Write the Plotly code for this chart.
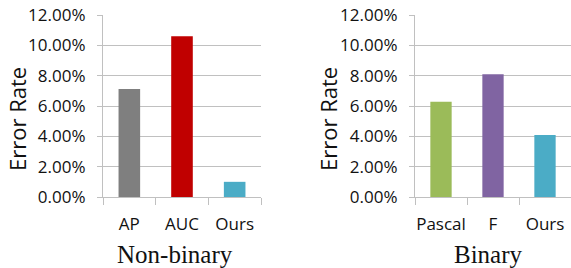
import plotly.graph_objects as go

nb_categories = ["AP", "AUC", "Ours"]
nb_values = [7.12, 10.6, 1.0]
nb_colors = ["#7f7f7f", "#c00000", "#4bacc6"]

b_categories = ["Pascal", "F", "Ours"]
b_values = [6.28, 8.09, 4.09]
b_colors = ["#9bbb59", "#8064a2", "#4bacc6"]

y_ticks = [0, 2, 4, 6, 8, 10, 12]
y_tick_labels = ["0.00%", "2.00%", "4.00%", "6.00%", "8.00%", "10.00%", "12.00%"]
y_title = "Error Rate"
panel_titles = ["Non-binary", "Binary"]

W, H = 571, 268
font_sans = "Open Sans, Lato, sans-serif"
grid = "#c0c0c0"

fig = go.Figure()
fig.add_trace(go.Bar(x=nb_categories, y=nb_values, marker=dict(color=nb_colors, line=dict(width=0)),
                     width=0.41, xaxis="x", yaxis="y"))
fig.add_trace(go.Bar(x=b_categories, y=b_values, marker=dict(color=b_colors, line=dict(width=0)),
                     width=0.41, xaxis="x2", yaxis="y2"))

ydom = [(268 - 197) / H, (268 - 15) / H]
xd1 = [103 / W, 261 / W]
xd2 = [415 / W, 1.0]

common_y = dict(range=[0, 12], tickvals=y_ticks, ticktext=y_tick_labels,
                showgrid=True, gridcolor=grid, gridwidth=1.3, showline=True, linecolor=grid,
                linewidth=1.3, ticks="outside", ticklen=5, tickcolor=grid, tickwidth=1.3,
                zeroline=False, domain=ydom, automargin=False,
                tickfont=dict(family=font_sans, size=17, color="#111"), ticklabelstandoff=8)
common_x = dict(showline=True, linecolor=grid, linewidth=1.3, ticks="outside", tickson="boundaries",
                ticklen=7, tickcolor=grid, tickwidth=1.3, showgrid=False, tickangle=0, automargin=False,
                tickfont=dict(family=font_sans, size=17, color="#111"), ticklabelstandoff=11)

fig.update_layout(
    width=W, height=H, margin=dict(l=0, r=0, t=0, b=0),
    paper_bgcolor="white", plot_bgcolor="white", showlegend=False,
    xaxis=dict(domain=xd1, anchor="y", **common_x),
    yaxis=dict(anchor="x", **common_y),
    xaxis2=dict(domain=xd2, anchor="y2", **common_x),
    yaxis2=dict(anchor="x2", **common_y),
    bargap=0.59,
)

for xc in [17 / W, 328 / W]:
    fig.add_annotation(text=y_title, x=xc, y=(268 - 119) / H, xref="paper", yref="paper",
                       xanchor="center", yanchor="middle",
                       textangle=-90, showarrow=False,
                       font=dict(family=font_sans, size=22, color="#111"))

for t, xc in zip(panel_titles, [175 / W, 488 / W]):
    fig.add_annotation(text=t, x=xc, y=(268 - 254) / H, xref="paper", yref="paper",
                       xanchor="center", yanchor="middle", showarrow=False,
                       font=dict(family="Liberation Serif, Times New Roman, serif", size=25, color="#111"))

fig.write_html("out.html", config={"displayModeBar": False},
               post_script="document.body.style.margin='0';")
